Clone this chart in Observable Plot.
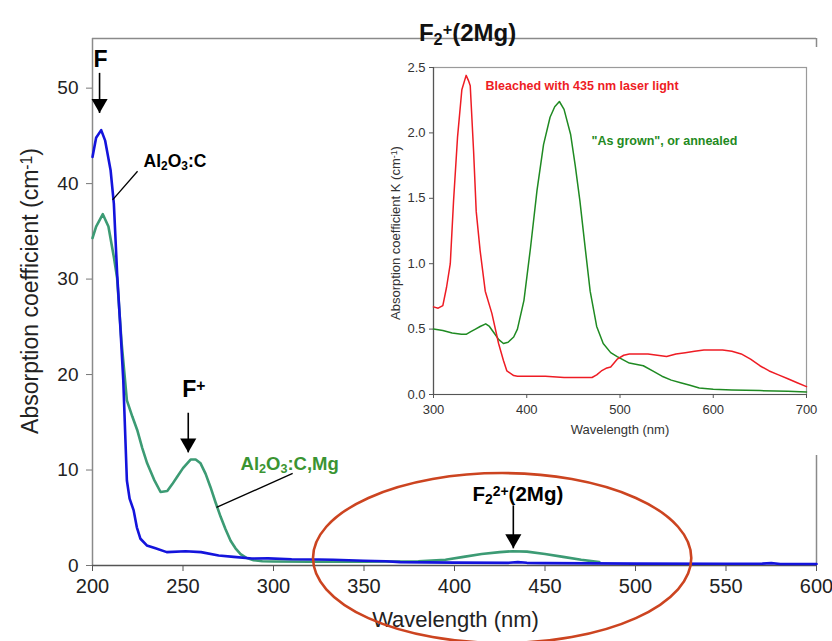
<!DOCTYPE html>
<html>
<head>
<meta charset="utf-8">
<script src="https://cdn.jsdelivr.net/npm/d3@7"></script>
<script src="https://cdn.jsdelivr.net/npm/@observablehq/plot@0.6"></script>
<style>
  body { margin: 0; background: #fff; }
  #wrap { position: relative; width: 832px; height: 641px; overflow: hidden; background: #fff; }
  #inset { position: absolute; left: 370px; top: 47px; }
  svg { font-family: "Liberation Sans", Arial, sans-serif; }
</style>
</head>
<body>
<div id="wrap"><div id="main"></div><div id="inset"></div></div>
<script>
// ---------- main chart data ----------
const xTicksMain = [200, 250, 300, 350, 400, 450, 500, 550, 600];
const yTicksMain = [0, 10, 20, 30, 40, 50];

// Al2O3:C (blue)
const blueWl = [200, 202, 204.8, 207, 210, 211.8, 213.6, 215.5, 217, 219, 220.5, 222.7, 224.5, 226.5, 230, 234.8, 241, 251.4, 260, 269.7, 278, 288, 297, 310, 325, 333, 350, 362, 370, 400, 430, 435, 440, 450, 500, 550, 570, 575, 580, 600];
const blueK  = [42.8, 44.8, 45.6, 44.5, 41.4, 37.9, 30.6, 24.6, 19.4, 8.9, 7.0, 5.8, 4.0, 2.8, 2.1, 1.8, 1.4, 1.5, 1.4, 1.05, 0.9, 0.73, 0.75, 0.65, 0.63, 0.6, 0.5, 0.45, 0.35, 0.3, 0.28, 0.35, 0.28, 0.25, 0.2, 0.18, 0.2, 0.25, 0.15, 0.15];

// Al2O3:C,Mg (green)
const greenWl = [200, 202, 205.7, 208.8, 211.8, 213.6, 216, 219, 222, 224.7, 227.5, 230.2, 234, 237.6, 241.3, 244, 246.8, 250, 254.2, 257, 259.7, 262.5, 265.2, 268, 270.8, 273.5, 276.3, 279, 281.8, 285, 289, 293.8, 300, 320, 350, 380, 395, 405, 415, 425, 432, 440, 450, 460, 470, 480];
const greenK  = [34.3, 35.5, 36.8, 35.5, 32.3, 30.1, 23.5, 17.3, 15.6, 14.2, 12.3, 10.7, 9.0, 7.7, 7.8, 8.5, 9.3, 10.2, 11.1, 11.1, 10.7, 9.6, 8.2, 6.6, 5.1, 3.8, 2.6, 1.8, 1.2, 0.8, 0.55, 0.45, 0.42, 0.4, 0.4, 0.45, 0.6, 0.9, 1.2, 1.4, 1.5, 1.45, 1.2, 0.9, 0.6, 0.35];

// annotations (data coordinates)
const titleText = "F_{2}^{+}(2Mg)";
const yLabelMain = "Absorption coefficient (cm^{-1})";
const xLabelMain = "Wavelength (nm)";
const labelText = ["F", "F^{+}", "Al_{2}O_{3}:C", "Al_{2}O_{3}:C,Mg", "F_{2}^{2+}(2Mg)"];
const labelX    = [204.4, 249.6, 228.2, 281.8, 409.9];
const labelY    = [53.0, 18.4, 42.3, 10.6, 7.4];
const arrowX    = [203.9, 252.9, 432.5];
const arrowFrom = [51.6, 16.0, 6.3];
const arrowTo   = [47.4, 11.85, 1.8];
const leaderX1 = [224.9, 310.6], leaderY1 = [41.3, 9.64];
const leaderX2 = [211.1, 268.5], leaderY2 = [38.3, 6.08];
const ellipseC = [426.6, 0.73], ellipseR = [104.5, 8.9];

// ---------- inset data ----------
const xTicksInset = [300, 400, 500, 600, 700];
const yTicksInset = [0, 0.5, 1.0, 1.5, 2.0, 2.5];
const redWl = [300, 305, 310, 314, 318, 321.5, 325.8, 330.4, 335, 337.5, 339.4, 343, 345.8, 350, 355.5, 362.6, 369.8, 375, 378.7, 386, 390, 400, 420, 440, 460, 470, 475, 480, 485, 490, 497, 504, 510, 520, 530, 540, 550, 560, 570, 580, 590, 600, 610, 620, 630, 640, 650, 660, 670, 680, 690, 700];
const redK  = [0.67, 0.66, 0.68, 0.82, 1.0, 1.48, 1.97, 2.33, 2.44, 2.40, 2.36, 1.86, 1.4, 1.1, 0.79, 0.62, 0.39, 0.26, 0.18, 0.145, 0.14, 0.14, 0.14, 0.13, 0.13, 0.13, 0.15, 0.18, 0.2, 0.21, 0.27, 0.3, 0.31, 0.31, 0.31, 0.30, 0.29, 0.31, 0.32, 0.33, 0.34, 0.34, 0.34, 0.33, 0.31, 0.27, 0.22, 0.18, 0.15, 0.12, 0.09, 0.06];
const grnWl = [300, 310, 320, 330, 335, 340, 345, 350, 356, 360, 365, 370, 375, 380, 386, 390, 397, 404, 411, 418, 425, 430, 435, 440, 447, 452, 457, 463, 468, 475, 482, 490, 497, 510, 525, 535, 545, 555, 565, 575, 585, 600, 620, 650, 680, 700];
const grnK  = [0.50, 0.49, 0.47, 0.46, 0.46, 0.48, 0.50, 0.52, 0.54, 0.52, 0.47, 0.42, 0.39, 0.40, 0.44, 0.5, 0.72, 1.12, 1.56, 1.91, 2.12, 2.2, 2.24, 2.18, 1.99, 1.75, 1.48, 1.1, 0.79, 0.52, 0.39, 0.32, 0.29, 0.24, 0.22, 0.18, 0.14, 0.11, 0.09, 0.07, 0.05, 0.04, 0.035, 0.03, 0.025, 0.02];
const insetLabels = ["Bleached with 435 nm laser light", "\"As grown\", or annealed"];
const insetLabelX = [355.8, 469.4];
const insetLabelY = [2.355, 1.94];
const yLabelInset = "Absorption coefficient K (cm^{-1})";
const xLabelInset = "Wavelength (nm)";

// ---------- build tables ----------
const zip = (xs, ys) => xs.map((x, i) => ({x, y: ys[i]}));
const blue = zip(blueWl, blueK);
const green = zip(greenWl, greenK);
const red = zip(redWl, redK);
const grn = zip(grnWl, grnK);
const arrows = arrowX.map((x, i) => ({x, y1: arrowFrom[i], y2: arrowTo[i]}));
const leaders = leaderX1.map((x1, i) => ({x1, y1: leaderY1[i], x2: leaderX2[i], y2: leaderY2[i]}));

const labelStyle = [
  {fontSize: 23, fill: "#000", textAnchor: "middle"},
  {fontSize: 23, fill: "#000", textAnchor: "start"},
  {fontSize: 17.5, fill: "#000", textAnchor: "start"},
  {fontSize: 18.5, fill: "#3a9432", textAnchor: "start"},
  {fontSize: 20.5, fill: "#000", textAnchor: "start"}
];

function ellipseMark(index, scales) {
  const x = scales.x, y = scales.y;
  const cx = x(ellipseC[0]), cy = y(ellipseC[1]);
  const rx = Math.abs(x(ellipseC[0] + ellipseR[0]) - cx);
  const ry = Math.abs(y(ellipseC[1] + ellipseR[1]) - cy);
  const e = document.createElementNS("http://www.w3.org/2000/svg", "ellipse");
  e.setAttribute("cx", cx); e.setAttribute("cy", cy);
  e.setAttribute("rx", rx); e.setAttribute("ry", ry);
  e.setAttribute("fill", "none"); e.setAttribute("stroke", "#cc4420"); e.setAttribute("stroke-width", 2.6);
  return e;
}

const main = Plot.plot({
  width: 832, height: 641,
  marginLeft: 92, marginRight: 16, marginTop: 38, marginBottom: 76,
  x: {domain: [200, 600]},
  y: {domain: [0, 55.2]},
  style: {background: "transparent", overflow: "visible", fontFamily: "Liberation Sans, Arial, sans-serif"},
  marks: [
    Plot.ruleY([55.2], {stroke: "#8a8a8a", strokeWidth: 1.5}),
    Plot.ruleX([600], {stroke: "#8a8a8a", strokeWidth: 1.5}),
    Plot.ruleX([200], {stroke: "#8a8a8a", strokeWidth: 1.5}),
    Plot.ruleY([0], {stroke: "#555", strokeWidth: 1.5}),
    Plot.axisX({ticks: xTicksMain, tickSize: 6, tickPadding: 7, fontSize: 20, label: null, stroke: "#555", fill: "#222"}),
    Plot.axisY({ticks: yTicksMain, tickSize: 6, tickPadding: 8, fontSize: 19, label: null, stroke: "#777", fill: "#222"}),
    Plot.line(green, {x: "x", y: "y", stroke: "#3c9b74", strokeWidth: 2.6}),
    Plot.line(blue, {x: "x", y: "y", stroke: "#1414dc", strokeWidth: 2.6}),
    Plot.link(leaders, {x1: "x1", y1: "y1", x2: "x2", y2: "y2", stroke: "#000", strokeWidth: 1.3}),
    Plot.link(arrows, {x1: "x", y1: "y1", x2: "x", y2: "y2", stroke: "#000", strokeWidth: 1.6}),
    Plot.dot(arrows, {x: "x", y: "y2", symbol: "triangle", r: 6, rotate: 180, dy: -9.3, fill: "#000", stroke: null}),
    ...labelText.map((t, i) => Plot.text([t], {x: [labelX[i]], y: [labelY[i]], text: d => d, fontWeight: "bold", ...labelStyle[i]})),
    Plot.text([titleText], {frameAnchor: "top", text: d => d, dx: 13, dy: -15, fontSize: 24, fontWeight: "bold", fill: "#111"}),
    Plot.text([xLabelMain], {frameAnchor: "bottom", text: d => d, dx: 1, dy: 61, fontSize: 22, fill: "#222"}),
    Plot.text([yLabelMain], {frameAnchor: "left", textAnchor: "middle", text: d => d, rotate: -90, dx: -62, dy: -11, fontSize: 23, fill: "#222"}),
    ellipseMark
  ]
});
document.getElementById("main").appendChild(main);

const inset = Plot.plot({
  width: 460, height: 408,
  marginLeft: 63, marginRight: 24, marginTop: 20, marginBottom: 61,
  x: {domain: [300, 700]},
  y: {domain: [0, 2.5]},
  style: {background: "#fff", overflow: "visible", fontFamily: "Liberation Sans, Arial, sans-serif"},
  marks: [
    Plot.frame({stroke: "#9a9a9a", strokeWidth: 1.2}),
    Plot.ruleX([300], {stroke: "#555", strokeWidth: 1.2}),
    Plot.ruleY([0], {stroke: "#555", strokeWidth: 1.2}),
    Plot.axisX({ticks: xTicksInset, tickSize: 4, tickPadding: 6, fontSize: 13, label: null, stroke: "#555", fill: "#333"}),
    Plot.axisY({ticks: yTicksInset, tickSize: 4, tickPadding: 4, fontSize: 13, tickFormat: d3.format(".1f"), label: null, stroke: "#555", fill: "#333"}),
    Plot.line(grn, {x: "x", y: "y", stroke: "#1f8a22", strokeWidth: 1.5}),
    Plot.line(red, {x: "x", y: "y", stroke: "#ee1c24", strokeWidth: 1.5}),
    Plot.text([insetLabels[0]], {x: [insetLabelX[0]], y: [insetLabelY[0]], text: d => d, textAnchor: "start", fontSize: 12.5, fontWeight: "bold", fill: "#ee1c24"}),
    Plot.text([insetLabels[1]], {x: [insetLabelX[1]], y: [insetLabelY[1]], text: d => d, textAnchor: "start", fontSize: 12.5, fontWeight: "bold", fill: "#1f8a22"}),
    Plot.text([xLabelInset], {frameAnchor: "bottom", text: d => d, dy: 39, fontSize: 13, fill: "#333"}),
    Plot.text([yLabelInset], {frameAnchor: "left", textAnchor: "middle", text: d => d, rotate: -90, dx: -38, dy: 2, fontSize: 13, fill: "#333"})
  ]
});
document.getElementById("inset").appendChild(inset);

// rich text: _{sub} and ^{sup}
function richify(svg) {
  svg.querySelectorAll("text").forEach(t => {
    const s = t.textContent;
    if (!/[_^]\{/.test(s)) return;
    while (t.firstChild) t.removeChild(t.firstChild);
    const re = /([_^])\{([^}]*)\}/g;
    let last = 0, m;
    const add = (txt, shift) => {
      if (!txt) return;
      const ts = document.createElementNS("http://www.w3.org/2000/svg", "tspan");
      ts.textContent = txt;
      if (shift) {
        ts.setAttribute("baseline-shift", shift === "_" ? "-22%" : "38%");
        ts.setAttribute("font-size", "68%");
      }
      t.appendChild(ts);
    };
    while ((m = re.exec(s))) {
      add(s.slice(last, m.index), null);
      add(m[2], m[1]);
      last = re.lastIndex;
    }
    add(s.slice(last), null);
  });
}
richify(main);
richify(inset);
</script>
</body>
</html>
